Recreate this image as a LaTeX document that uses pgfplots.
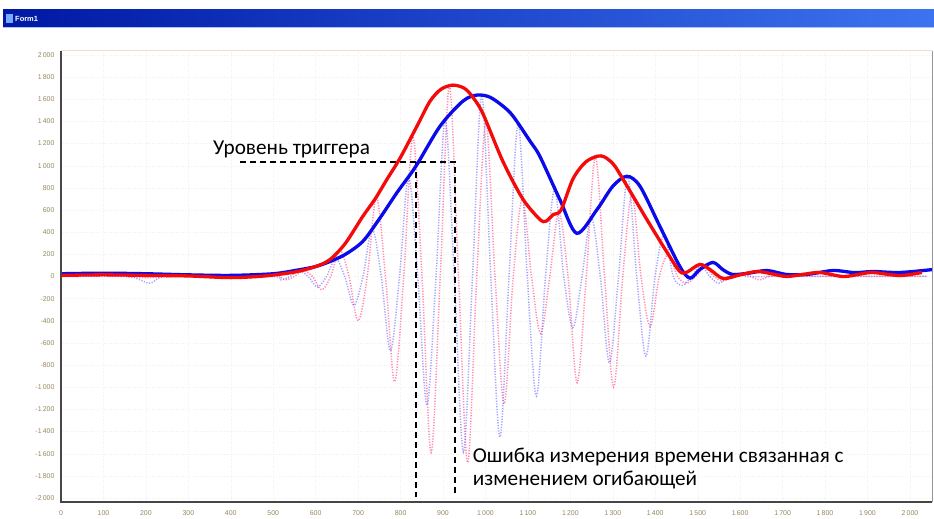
\documentclass[border=0pt]{standalone}
\usepackage{fontspec}
\setmainfont{Liberation Sans}
\newfontfamily\annot{Carlito}
\usepackage{pgfplots}
\pgfplotsset{compat=1.18}
\definecolor{tickc}{RGB}{150,135,95}
\definecolor{spine}{RGB}{70,70,70}
\definecolor{topc}{RGB}{235,225,195}
\definecolor{sigred}{RGB}{255,60,120}
\definecolor{sigblue}{RGB}{100,100,255}
\definecolor{tbdark}{RGB}{0,24,165}
\definecolor{tblight}{RGB}{60,115,240}
\definecolor{envred}{RGB}{245,10,10}
\definecolor{envblue}{RGB}{10,10,235}
\begin{document}
\begin{tikzpicture}
\path[use as bounding box] (0,0) rectangle (934bp,519bp);
% window title bar
\shade[left color=tbdark, right color=tblight] (3bp,492bp) rectangle (934bp,509bp);
\fill[color={rgb,255:red,170;green,195;blue,245}] (3bp,490.5bp) rectangle (934bp,492bp);
\fill[color={rgb,255:red,120;green,170;blue,255}] (6bp,496bp) rectangle (13bp,505bp);
\node[anchor=west, text=white, font=\bfseries\fontsize{7.5}{8}\selectfont, inner sep=0pt] at (15bp,500.5bp) {Form1};
\begin{axis}[
  at={(61bp,17bp)}, anchor=south west,
  scale only axis, width=871bp, height=451bp,
  xmin=0, xmax=2052, ymin=-2036, ymax=2036,
  axis line style={draw=none},
  xtick={0,100,...,2000},
  ytick={-2000,-1800,...,2000},
  major tick length=0pt,
  tick label style={font=\fontsize{7}{8}\selectfont, text=tickc},
  xticklabel shift=5bp,
  yticklabel shift=3bp,
  /pgf/number format/.cd, 1000 sep={\,}, assume math mode=true,
  /pgfplots/.cd,
  grid=major,
  major grid style={color=tickc, opacity=0.12, dotted},
  clip=false,
]
% oscillating signals
\addplot[sigred, opacity=0.6, line width=1.5bp, dash pattern=on 1.2bp off 1.5bp, smooth, tension=0.55] coordinates {
(0,0)(100,10)(200,-10)(300,5)(400,-15)(485,0)(506.5,20)(528,-30)(549.5,0)(571,50)(592.5,0)(614,-120)(635.5,0)(657,240)(678.5,0)(700,-400)(721.5,0)(743,715)(764.5,0)(786,-950)(807.5,0)(829,1262)(850.5,0)(872,-1590)(893.5,0)(915,1720)(936.5,0)(958,-1680)(979.5,0)(1001,1390)(1022.5,0)(1044,-1150)(1065.5,0)(1087,700)(1108.5,0)(1130,-515)(1151.5,0)(1173,577)(1194.5,0)(1216,-960)(1237.5,0)(1259,1080)(1280.5,0)(1302,-1000)(1323.5,0)(1345,740)(1366.5,0)(1388,-450)(1409.5,0)(1431,200)(1452.5,0)(1474,-60)(1495.5,0)(1517,80)(1538.5,0)(1560,-40)(1581.5,0)(1603,30)(1624.5,0)(1646,-30)(1667.5,0)(1700,0)(2040,0)};
\addplot[sigblue, opacity=0.6, line width=1.5bp, dash pattern=on 1.2bp off 1.5bp, smooth, tension=0.55] coordinates {
(0,0)(150,0)(180,-20)(210,-60)(240,0)(300,0)(496.5,0)(518,-30)(539.5,0)(561,50)(582.5,0)(604,-95)(625.5,0)(647,160)(668.5,0)(690,-260)(711.5,0)(733,430)(754.5,0)(776,-670)(797.5,0)(819,900)(840.5,0)(862,-1160)(883.5,0)(905,1410)(926.5,0)(948,-1585)(969.5,0)(991,1635)(1012.5,0)(1034,-1450)(1055.5,0)(1077,1380)(1098.5,0)(1120,-1080)(1141.5,0)(1163,790)(1184.5,0)(1206,-460)(1227.5,0)(1249,540)(1270.5,0)(1292,-780)(1313.5,0)(1335,905)(1356.5,0)(1378,-720)(1399.5,0)(1421,380)(1442.5,0)(1464,-80)(1485.5,0)(1507,100)(1528.5,0)(1550,-60)(1571.5,0)(1593,30)(1614.5,0)(1660,0)(2040,0)};
% trigger level and timing lines
\addplot[black, line width=1.6bp, dash pattern=on 6bp off 4bp] coordinates {(422,1032)(928,1032)(928,-1990)};
\addplot[black, line width=1.6bp, dash pattern=on 6bp off 4bp] coordinates {(836,1032)(836,-1990)};
% envelopes
\addplot[envblue, line width=3.3bp, smooth, tension=0.5] coordinates {
(0,25)(100,30)(200,25)(300,15)(400,10)(500,25)(560,60)(600,90)(634,136)(670,200)(711,317)(750,520)(792,760)(836,995)(893,1357)(947,1584)(980,1638)(1010,1620)(1041,1539)(1065,1448)(1105,1222)(1128,1086)(1175,697)(1215,390)(1263,606)(1300,815)(1333,905)(1364,815)(1411,452)(1458,90)(1482,-15)(1505,63)(1536,127)(1560,60)(1583,18)(1620,30)(1663,54)(1710,18)(1760,20)(1819,54)(1870,35)(1913,45)(1976,36)(2054,63)};
\addplot[envred, line width=3.3bp, smooth, tension=0.5] coordinates {
(0,10)(100,15)(200,10)(300,5)(400,-10)(480,5)(550,40)(600,90)(634,154)(670,300)(711,543)(740,700)(768,878)(799,1070)(839,1360)(869,1580)(895,1690)(923,1728)(950,1700)(970,1620)(994,1470)(1041,1040)(1088,700)(1128,516)(1143,500)(1160,560)(1178,600)(1206,880)(1235,1030)(1263,1086)(1280,1080)(1300,1020)(1317,923)(1380,516)(1428,217)(1458,45)(1475,40)(1505,109)(1530,60)(1560,-18)(1600,15)(1640,45)(1680,20)(1710,0)(1750,20)(1788,36)(1842,0)(1880,20)(1913,36)(1976,9)(2028,36)};
% annotations
\node[anchor=base west, inner sep=0pt, font=\annot\fontsize{21.3}{25}\selectfont] at (axis cs:358,1097) {Уровень триггера};
\node[anchor=base west, inner sep=0pt, font=\annot\fontsize{21.3}{25}\selectfont] at (axis cs:970,-1675) {Ошибка измерения времени связанная с};
\node[anchor=base west, inner sep=0pt, font=\annot\fontsize{21.3}{25}\selectfont] at (axis cs:970,-1883) {изменением огибающей};
% frame
\draw[topc, line width=1bp] (rel axis cs:0,1) -- (rel axis cs:1,1);
\draw[color={rgb,255:red,150;green,150;blue,150}, line width=1bp] (rel axis cs:1,0) -- (rel axis cs:1,1);
\draw[spine, line width=1.6bp] (rel axis cs:0,1) -- (rel axis cs:0,0) -- (rel axis cs:1,0);
\end{axis}
\end{tikzpicture}
\end{document}
